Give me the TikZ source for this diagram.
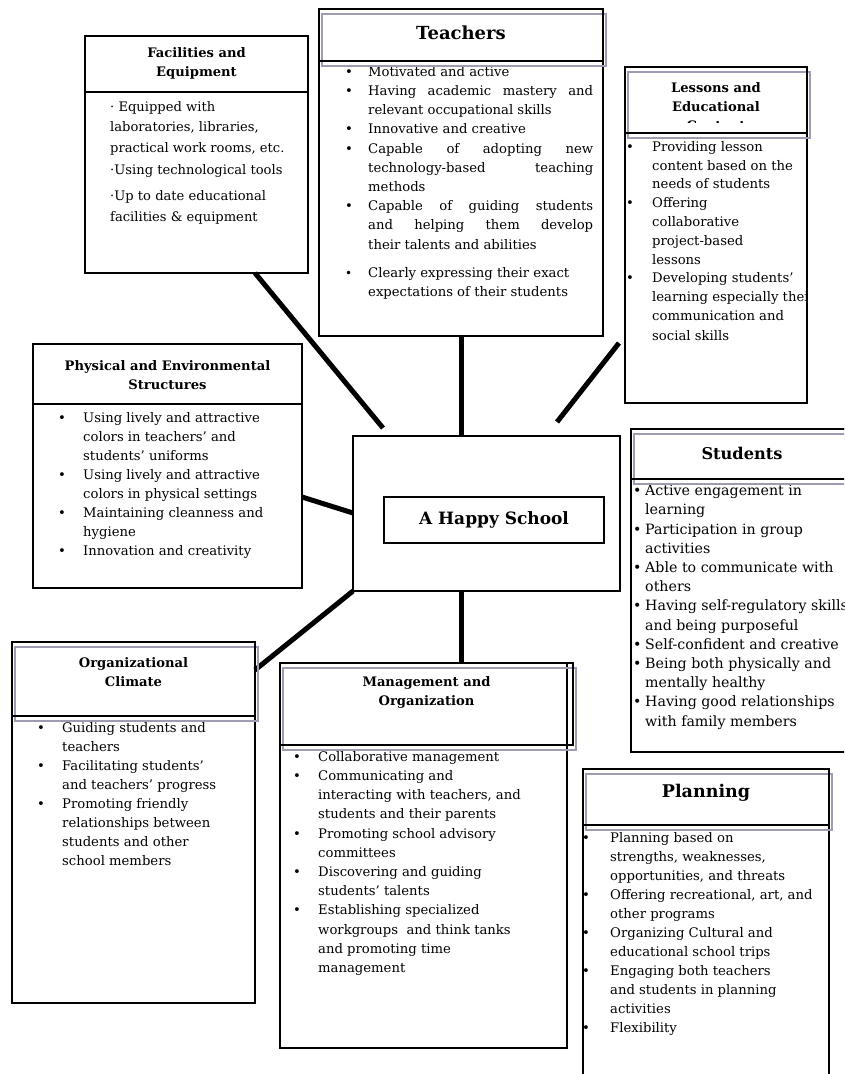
\documentclass[tikz,border=0pt]{standalone}
\usepackage{fontspec}
\setmainfont{DejaVu Serif}
\usetikzlibrary{calc}
\definecolor{shgray}{RGB}{160,154,178}
\newlength\ind
\newcommand\bu{\makebox[\ind][l]{\textbullet}}
\newcommand\co{\hspace*{\ind}}
\newcommand\jl[1]{\makebox[225pt][s]{#1}}
\newcommand\plainhead[5]{\node[hdr, minimum width=#4pt, minimum height=#5pt] (#1) at (#2,#3) {};}
\newcommand\shadhead[5]{%
  \path (#2,#3) node[hdrp, minimum width=#4pt, minimum height=#5pt] (#1) {};
  \draw[shd] ($(#1.north west)+(3,5)$) rectangle ($(#1.south east)+(3,5)$);
  \draw[hline] (#1.north west) rectangle (#1.south east);}
\begin{document}
\begin{tikzpicture}[x=1pt,y=-1pt,
  box/.style={draw=black, line width=1.4pt, inner sep=0pt, outer sep=0pt, anchor=north west},
  hdr/.style={draw=black, line width=2.2pt, inner sep=0pt, outer sep=0pt, anchor=north west},
  hdrp/.style={inner sep=0pt, outer sep=0pt, anchor=north west},
  hline/.style={draw=black, line width=2.2pt},
  shd/.style={draw=shgray, line width=2.4pt},
  conn/.style={line width=5pt},
  ttl/.style={font=\bfseries\fontsize{13.1}{19}\selectfont, align=center, inner sep=0pt},
  big/.style={font=\bfseries\fontsize{17.5}{20}\selectfont, inner sep=0pt},
  txt/.style={anchor=north west, inner sep=0pt, align=left, font=\fontsize{13.2}{19.2}\selectfont},
]
\clip (0,0) rectangle (844,1074);
\fill[white] (0,0) rectangle (844,1074);

% ---------- boxes ----------
\node[box, minimum width=223pt, minimum height=237pt] (fac) at (85,36) {};
\node[box, minimum width=284pt, minimum height=327pt] (tea) at (319,9) {};
\node[box, minimum width=182pt, minimum height=336pt] (les) at (625,67) {};
\node[box, minimum width=269pt, minimum height=244pt] (phy) at (33,344) {};
\node[box, line width=1.8pt, minimum width=267pt, minimum height=155pt] (hs) at (353,436) {};
\node[box, minimum width=220pt, minimum height=46pt] (hsI) at (384,497) {};
\node[box, minimum width=222pt, minimum height=323pt] (stu) at (631,429) {};
\node[box, minimum width=243pt, minimum height=361pt] (org) at (12,642) {};
\node[box, minimum width=287pt, minimum height=385pt] (mgt) at (280,663) {};
\node[box, minimum width=246pt, minimum height=316pt] (pla) at (583,769) {};

% ---------- connectors ----------
\draw[conn] ($(fac.south west)+(170,0)$) -- ($(hs.north west)+(30,-8)$);
\draw[conn] (tea.south) -- (tea.south |- hs.north);
\draw[conn] ($(les.north west)+(-6,276)$) -- ($(hs.north west)+(204,-14)$);
\draw[conn] ($(phy.north east)+(0,153)$) -- ($(hs.north west)+(0,77)$);
\draw[conn] ($(org.north east)+(0,28)$) -- (hs.south west);
\draw[conn] (tea.south |- hs.south) -- (tea.south |- mgt.north);

% ---------- body texts ----------
\node[txt, font=\fontsize{13.1}{20.5}\selectfont] (facT) at (110,101) {%
· Equipped with\\
laboratories, libraries,\\
practical work rooms, etc.\\[1.5pt]
·Using technological tools\\[6pt]
·Up to date educational\\
facilities \& equipment};

\setlength\ind{23pt}
\node[txt] (teaT) at (345,66) {%
\bu Motivated and active\\
\bu\jl{Having academic mastery and}\\
\co relevant occupational skills\\
\bu Innovative and creative\\
\bu\jl{Capable of adopting new}\\
\co\jl{technology-based teaching}\\
\co methods\\
\bu\jl{Capable of guiding students}\\
\co\jl{and helping them develop}\\
\co their talents and abilities\\[9pt]
\makebox[\ind][l]{\large\textbullet}Clearly expressing their exact\\
\co expectations of their students};

\setlength\ind{26pt}
\begin{scope}
\clip (les.north west) rectangle (les.south east);
\node[txt, font=\fontsize{13.2}{18.8}\selectfont] (lesT) at (626,141) {%
\bu Providing lesson\\
\co content based on the\\
\co needs of students\\
\bu Offering\\
\co collaborative\\
\co project-based\\
\co lessons\\
\bu Developing students’\\
\co learning especially their\\
\co communication and\\[1pt]
\co social skills};
\end{scope}

\setlength\ind{25pt}
\node[txt, font=\fontsize{13.2}{19}\selectfont] (phyT) at (58,412) {%
\bu Using lively and attractive\\
\co colors in teachers’ and\\
\co students’ uniforms\\
\bu Using lively and attractive\\
\co colors in physical settings\\
\bu Maintaining cleanness and\\
\co hygiene\\
\bu Innovation and creativity};

\setlength\ind{12pt}
\node[txt, font=\fontsize{14.2}{19.2}\selectfont] (stuT) at (633,485) {%
\bu Active engagement in\\
\co learning\\
\bu Participation in group\\
\co activities\\
\bu Able to communicate with\\
\co others\\
\bu Having self-regulatory skills\\
\co and being purposeful\\
\bu Self-confident and creative\\
\bu Being both physically and\\
\co mentally healthy\\
\bu Having good relationships\\
\co with family members};

\setlength\ind{25pt}
\node[txt, font=\fontsize{13.2}{19}\selectfont] (orgT) at (37,722) {%
\bu Guiding students and\\
\co teachers\\
\bu Facilitating students’\\
\co and teachers’ progress\\
\bu Promoting friendly\\
\co relationships between\\
\co students and other\\
\co school members};

\node[txt] (mgtT) at (293,751) {%
\bu Collaborative management\\
\bu Communicating and\\
\co interacting with teachers, and\\
\co students and their parents\\
\bu Promoting school advisory\\
\co committees\\
\bu Discovering and guiding\\
\co students’ talents\\
\bu Establishing specialized\\
\co workgroups\ \ and think tanks\\
\co and promoting time\\
\co management};

\setlength\ind{28pt}
\node[txt, font=\fontsize{13.2}{19}\selectfont] (plaT) at (582,832) {%
\bu Planning based on\\
\co strengths, weaknesses,\\
\co opportunities, and threats\\
\bu Offering recreational, art, and\\
\co other programs\\
\bu Organizing Cultural and\\
\co educational school trips\\
\bu Engaging both teachers\\
\co and students in planning\\
\co activities\\
\bu Flexibility};

% ---------- headers ----------
\plainhead{facH}{85}{36}{223}{56}
\node[ttl] (facL) at (196.5,63.5) {Facilities and\\Equipment};

\shadhead{teaH}{319}{9}{284}{52}
\node[big, font=\bfseries\fontsize{18}{20}\selectfont] (teaL) at (461,33) {Teachers};

\shadhead{lesH}{625}{67}{182}{66}
\begin{scope}
\clip (625,67) rectangle (807,122.5);
\node[ttl] (lesL) at (716,107) {Lessons and\\Educational\\Content};
\end{scope}

\plainhead{phyH}{33}{344}{269}{60}
\node[ttl] (phyL) at (167.5,375) {Physical and Environmental\\Structures};

\shadhead{stuH}{631}{429}{222}{50}
\node[big, font=\bfseries\fontsize{16.2}{20}\selectfont] (stuL) at (742,453) {Students};

\shadhead{orgH}{12}{642}{243}{74}
\node[ttl] (orgL) at (133.5,672) {Organizational\\Climate};

\shadhead{mgtH}{280}{663}{293}{82}
\node[ttl] (mgtL) at (426.5,692.5) {Management and\\Organization};

\shadhead{plaH}{583}{769}{246}{56}
\node[big] (plaL) at (706,793) {Planning};

\node[font=\bfseries\fontsize{17}{20}\selectfont, inner sep=0pt] (hsL) at (hsI.center) {A Happy School};
\end{tikzpicture}
\end{document}
